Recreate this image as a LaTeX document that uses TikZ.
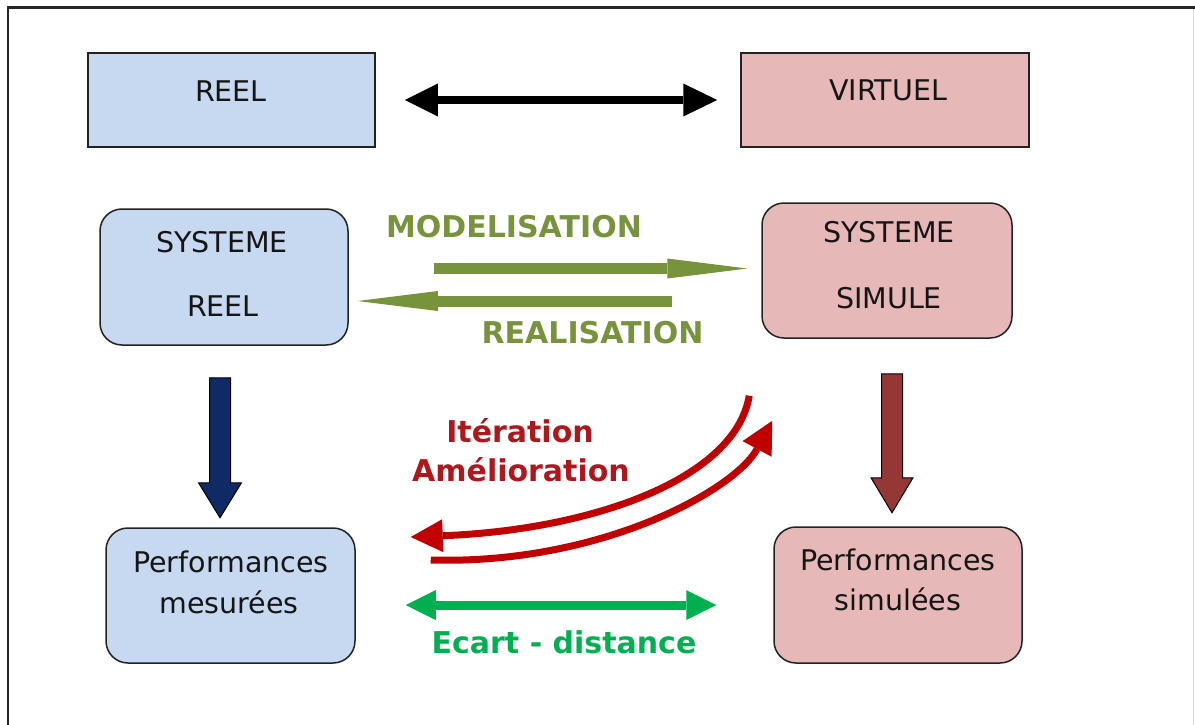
\documentclass[tikz,border=0pt]{standalone}
\usepackage{fontspec}
\setmainfont{DejaVu Sans}
\usetikzlibrary{arrows.meta,calc}

\definecolor{reelblue}{HTML}{C6D9F1}
\definecolor{virtpink}{HTML}{E6B9B8}
\definecolor{boxline}{HTML}{222222}
\definecolor{olivegreen}{HTML}{77933C}
\definecolor{iterred}{HTML}{C00000}
\definecolor{itertext}{HTML}{AE171C}
\definecolor{ecartgreen}{HTML}{00B050}
\definecolor{navyarrow}{HTML}{0F2A64}
\definecolor{brownarrow}{HTML}{953735}
\definecolor{textblack}{HTML}{151515}

\tikzset{
  plainbox/.style={draw=boxline, line width=1.5pt, rectangle, inner sep=0pt},
  roundbox/.style={plainbox, rounded corners=22pt},
  boxtext/.style={anchor=base, inner sep=0pt, text=textblack,
    font=\fontsize{28.5pt}{34pt}\selectfont},
  boldtext/.style={anchor=base, inner sep=0pt,
    font=\fontsize{30pt}{36pt}\selectfont\bfseries},
  twoway/.style={line width=8pt,
    {Triangle[length=33pt,width=33pt,line width=0pt]}-{Triangle[length=34pt,width=33pt,line width=0pt]}},
  olivearrow/.style={draw=olivegreen, line width=11pt,
    -{Triangle[length=80pt,width=20pt,line width=0pt]}},
  iterarrow/.style={draw=iterred, line width=7pt,
    -{Triangle[length=32pt,width=33pt,line width=0pt]}},
  ecartarrow/.style={draw=ecartgreen, line width=9pt,
    {Triangle[length=30pt,width=30pt,line width=0pt]}-{Triangle[length=30pt,width=30pt,line width=0pt]}},
  blockarrow/.style={draw=black, line width=1pt, line join=miter}
}

\begin{document}
\begin{tikzpicture}[x=1pt,y=-1pt]
\useasboundingbox (0,0) rectangle (1195,725);
\fill[white] (0,0) rectangle (1195,725);

% outer frame
\draw[line width=2.5pt, draw=black!85] (8,725) -- (8,7.5) -- (1195,7.5);
\draw[line width=1pt, draw=black!15] (1193,9) -- (1193,725);

% boxes
\node[plainbox, fill=reelblue, minimum width=287pt, minimum height=94pt] (reel) at (231.5,100) {};
\node[plainbox, fill=virtpink, minimum width=288pt, minimum height=94pt] (virtuel) at (885,100) {};
\node[roundbox, fill=reelblue, minimum width=248pt, minimum height=136pt] (sysreel) at (224,277) {};
\node[roundbox, fill=virtpink, minimum width=250pt, minimum height=135pt] (syssim) at (887,270.5) {};
\node[roundbox, fill=reelblue, minimum width=249pt, minimum height=135pt] (perfmes) at (230.5,595.5) {};
\node[roundbox, fill=virtpink, minimum width=248pt, minimum height=136pt] (perfsim) at (898,595) {};

% box labels
\node[boxtext] (reeltxt) at (231,102) {REEL};
\node[boxtext] (virtueltxt) at (888,101) {VIRTUEL};
\node[boxtext] (sysreeltxta) at (222,252) {SYSTEME};
\node[boxtext] (sysreeltxtb) at (223,316) {REEL};
\node[boxtext] (syssimtxta) at (889,242) {SYSTEME};
\node[boxtext] (syssimtxtb) at (889,308) {SIMULE};
\node[boxtext] (perfmestxta) at (231,572) {Performances};
\node[boxtext] (perfmestxtb) at (229,613) {mesurées};
\node[boxtext] (perfsimtxta) at (898,570) {Performances};
\node[boxtext] (perfsimtxtb) at (898,610) {simulées};

% real <-> virtual
\draw[twoway] ($(reel.east)+(29,0)$) -- ($(virtuel.west)+(-23,0)$);

% modelling and realisation
\draw[olivearrow] ($(sysreel.east)+(85,-8.5)$) -- ($(syssim.west)+(-14,-2)$);
\draw[olivearrow] ($(syssim.west)+(-89,30.5)$) -- ($(sysreel.east)+(9,24)$);
\node[boldtext, text=olivegreen] (modtxt) at (514,237) {MODELISATION};
\node[boldtext, text=olivegreen] (realtxt) at (592.5,343) {REALISATION};

% performance arrows
\draw[blockarrow, fill=navyarrow] ($(sysreel.south)+(-14.5,32)$)
  -- ++(21,0) -- ++(0,105) -- ++(11,0) -- ++(-21.5,35) -- ++(-21.5,-35)
  -- ++(11,0) -- cycle;
\draw[blockarrow, fill=brownarrow] ($(syssim.south)+(-5.5,35)$)
  -- ++(21,0) -- ++(0,104) -- ++(10.5,0) -- ++(-21,35) -- ++(-21,-35)
  -- ++(10.5,0) -- cycle;

% iteration loop
\coordinate (iterA) at ($(syssim.south west)+(-12,57)$);
\coordinate (iterB) at ($(perfmes.east)+(55,-58.5)$);
\coordinate (iterC) at ($(perfmes.east)+(75,-35.5)$);
\coordinate (iterD) at ($(syssim.south west)+(11,82)$);
\draw[iterarrow] (iterA) .. controls (735,480) and (590,530) .. (iterB);
\draw[iterarrow] (iterC) .. controls (600,565) and (735,490) .. (iterD);
\node[boldtext, text=itertext] (itertxta) at (520,442) {Itération};
\node[boldtext, text=itertext] (itertxtb) at (521,481) {Amélioration};

% gap between measured and simulated
\draw[ecartarrow] ($(perfmes.east)+(50,9.5)$) -- ($(perfsim.west)+(-57,10)$);
\node[boldtext, text=ecartgreen] (ecarttxt) at (564,653) {Ecart - distance};
\end{tikzpicture}
\end{document}
